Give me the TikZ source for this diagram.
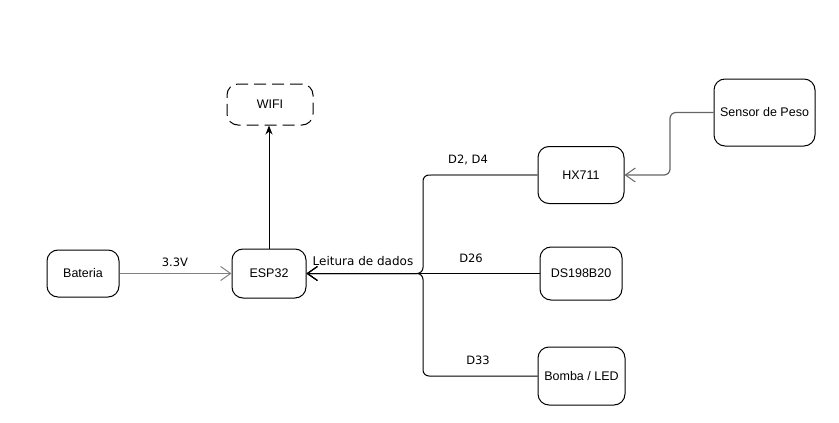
\documentclass[tikz,border=0pt]{standalone}
\usepackage{fontspec}
\setmainfont{Liberation Sans}
\newfontfamily\lblfont{DejaVu Sans}
\usetikzlibrary{arrows.meta,calc}
\tikzset{
  box/.style={draw=black, line width=1pt, rounded corners=11pt, fill=white, inner sep=0pt,
    font=\fontsize{12.5}{15}\selectfont},
  dbox/.style={box, dash pattern=on 12pt off 6pt},
  edge/.style={line width=1pt, draw=black, rounded corners=6pt},
  gedge/.style={edge, draw=black!50, line width=1.4pt},
  openarr/.style={-{Straight Barb[length=10pt,width=14pt,line width=1pt]}},
  fillarr/.style={-{Stealth[length=9pt,width=7pt]}},
  lbl/.style={font=\lblfont\fontsize{11.5}{14}\selectfont, inner sep=0pt},
}
\begin{document}
\begin{tikzpicture}[x=1pt,y=-1pt]
\useasboundingbox (0,0) rectangle (839,423);
\node[dbox, minimum width=86pt, minimum height=41pt] (wifi) at (270,104.5) {WIFI};
\node[box, minimum width=72pt, minimum height=47pt] (bat) at (83,273.5) {Bateria};
\node[box, minimum width=74pt, minimum height=49pt] (esp) at (269,273.5) {ESP32};
\node[box, minimum width=86pt, minimum height=57pt] (hx) at (581,175) {HX711};
\node[box, minimum width=82pt, minimum height=53pt] (ds) at (581,273.5) {DS198B20};
\node[box, minimum width=87pt, minimum height=58pt] (bomba) at (581.5,376) {Bomba / LED};
\node[box, minimum width=101pt, minimum height=67pt] (sp) at (764.5,112.5) {Sensor de Peso};
\coordinate (jx) at (423,0);
\coordinate (sx) at (670,0);

\draw[gedge, openarr] (bat) -- (esp);
\draw[edge, fillarr] (esp.north) -- (esp.north |- wifi.south);
\draw[edge, openarr] (hx.west) -- (jx |- hx.west) -- (jx |- esp.east) -- (esp.east);
\draw[gedge, rounded corners=0pt] (hx.west) -- ($(jx |- hx.west)+(8,0)$);
\draw[edge, openarr] (ds.west) -- (esp.east);
\draw[edge, openarr] (bomba.west) -- (jx |- bomba.west) -- (jx |- esp.east) -- (esp.east);
\draw[gedge, line width=1.2pt, draw=black!60, openarr] (sp.west) -- (sx |- sp.west) -- (sx |- hx.east) -- (hx.east);

\node[lbl] (l33) at (175,262) {3.3V};
\node[lbl] (ld24) at (468,160) {D2, D4};
\node[lbl] (ld26) at (471,258) {D26};
\node[lbl] (ld33) at (478,360) {D33};
\node[lbl, font=\lblfont\fontsize{12}{14}\selectfont] (lleit) at (363,261) {Leitura de dados};
\end{tikzpicture}
\end{document}
